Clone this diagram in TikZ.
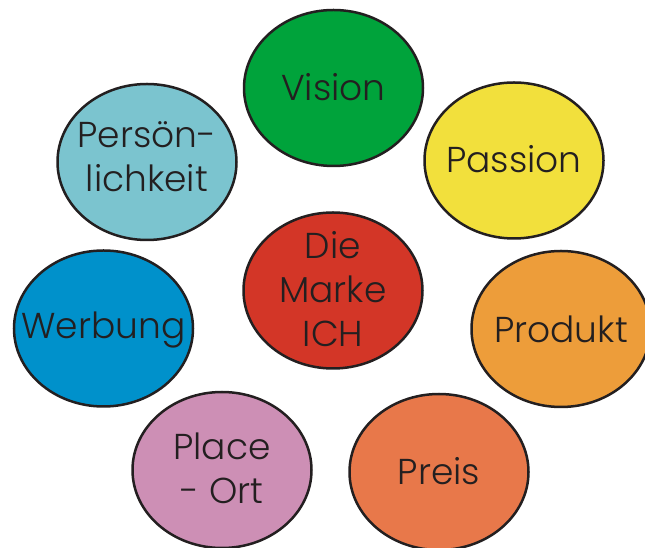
\documentclass[tikz,border=0pt]{standalone}
\usepackage{fontspec}
\setmainfont{Poppins Light}
\usetikzlibrary{shapes.geometric}
\definecolor{cVision}{HTML}{00A33B}
\definecolor{cPassion}{HTML}{F2E03C}
\definecolor{cPers}{HTML}{7BC4CF}
\definecolor{cMarke}{HTML}{D33627}
\definecolor{cWerbung}{HTML}{0091CB}
\definecolor{cProdukt}{HTML}{ED9D3A}
\definecolor{cPlace}{HTML}{CD8FB5}
\definecolor{cPreis}{HTML}{E8784A}
\definecolor{ink}{HTML}{231F20}
\tikzset{
  bubble/.style={ellipse, draw=ink, line width=2.5pt, minimum width=179pt, minimum height=156pt,
    inner sep=0pt},
  txt/.style={inner sep=0pt, align=center, text=ink, font=\fontsize{36}{44}\selectfont}
}
\begin{document}
\begin{tikzpicture}[x=1pt,y=1pt]
\useasboundingbox (0,0) rectangle (645,548);
\node[bubble, fill=cVision] (vision) at (333.5,460) {};
\node[bubble, fill=cPers] (pers) at (147,386) {};
\node[bubble, fill=cPassion] (passion) at (514,387.5) {};
\node[bubble, fill=cMarke] (marke) at (333,257.5) {};
\node[bubble, fill=cWerbung] (werbung) at (103.5,219.5) {};
\node[bubble, fill=cProdukt] (produkt) at (561,219) {};
\node[bubble, fill=cPlace] (place) at (222,78) {};
\node[bubble, fill=cPreis] (preis) at (439,76) {};
\node[txt] (vision-t) at ([yshift=1pt]vision.center) {Vision};
\node[txt] (pers-t) at ([yshift=5pt]pers.center) {Persön-\\lichkeit};
\node[txt] (passion-t) at ([yshift=1pt]passion.center) {Passion};
\node[txt] (marke-t) at ([yshift=1pt]marke.center) {Die\\Marke\\ICH};
\node[txt] (werbung-t) at ([yshift=-2pt]werbung.center) {Werbung};
\node[txt] (produkt-t) at (produkt.center) {Produkt};
\node[txt] (place-t) at ([yshift=2pt]place.center) {Place\\- Ort};
\node[txt] (preis-t) at ([yshift=1pt]preis.center) {Preis};
\end{tikzpicture}
\end{document}
